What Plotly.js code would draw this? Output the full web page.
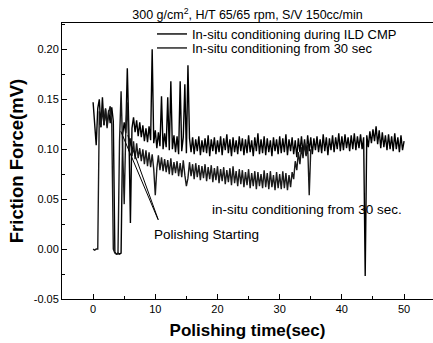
<!DOCTYPE html>
<html>
<head>
<meta charset="utf-8">
<script src="https://cdn.plot.ly/plotly-3.0.1.min.js"></script>
<style>html,body{margin:0;padding:0;background:#fff;}#chart{width:433px;height:343px;}</style>
</head>
<body>
<div id="chart"></div>
<script>
// Sampling: both records start at t = 0 s, one sample every 0.25 s
const sampleStart = 0;
const sampleStep = 0.25;

const seriesNames = ['In-situ conditioning during ILD CMP', 'In-situ conditioning from 30 sec'];

// Friction force (mV), in-situ conditioning during ILD CMP, t = 0 ... 50 s
const frictionDuring = [
  0.147, 0.119, 0.104, 0.141, 0.150, 0.122, 0.152, 0.124,
  0.141, 0.123, 0.139, 0.126, 0.142, 0.128, -0.003, -0.005,
  -0.004, -0.005, -0.004, 0.114, 0.127, 0.116, 0.181, 0.119,
  0.026, 0.121, 0.132, 0.117, 0.129, 0.113, 0.127, 0.112,
  0.124, 0.108, 0.121, 0.107, 0.123, 0.109, 0.200, 0.106,
  0.119, 0.101, 0.117, 0.103, 0.153, 0.100, 0.116, 0.102,
  0.152, 0.099, 0.168, 0.100, 0.114, 0.097, 0.113, 0.095,
  0.168, 0.098, 0.112, 0.165, 0.096, 0.184, 0.111, 0.097,
  0.112, 0.095, 0.110, 0.098, 0.113, 0.094, 0.109, 0.097,
  0.111, 0.096, 0.114, 0.093, 0.110, 0.098, 0.112, 0.095,
  0.109, 0.097, 0.113, 0.094, 0.111, 0.099, 0.115, 0.096,
  0.110, 0.093, 0.112, 0.097, 0.109, 0.095, 0.113, 0.098,
  0.111, 0.094, 0.110, 0.096, 0.114, 0.097, 0.109, 0.093,
  0.112, 0.098, 0.116, 0.095, 0.110, 0.096, 0.113, 0.094,
  0.111, 0.097, 0.109, 0.093, 0.112, 0.098, 0.110, 0.095,
  0.113, 0.096, 0.111, 0.097, 0.115, 0.094, 0.110, 0.098,
  0.112, 0.095, 0.109, 0.092, 0.111, 0.097, 0.113, 0.096,
  0.110, 0.094, 0.114, 0.098, 0.112, 0.095, 0.111, 0.099,
  0.113, 0.097, 0.110, 0.096, 0.115, 0.098, 0.112, 0.094,
  0.111, 0.099, 0.114, 0.097, 0.112, 0.100, 0.116, 0.098,
  0.113, 0.099, 0.115, 0.101, 0.112, 0.098, 0.114, 0.100,
  0.116, 0.099, 0.113, 0.101, 0.115, 0.100, 0.112, -0.027,
  0.114, 0.102, 0.118, 0.106, 0.120, 0.108, 0.123, 0.105,
  0.119, 0.101, 0.117, 0.102, 0.114, 0.099, 0.115, 0.100,
  0.113, 0.098, 0.116, 0.100, 0.112, 0.097, 0.114, 0.099,
  0.108
];

// Friction force (mV), in-situ conditioning from 30 sec, t = 0 ... 35 s
const frictionFrom30 = [
  0.000, -0.001, 0.000, 0.000, 0.138, 0.122, 0.141, 0.124,
  0.140, 0.121, 0.137, 0.143, 0.125, 0.000, -0.004, -0.005,
  -0.005, 0.108, 0.158, 0.104, 0.045, 0.116, 0.147, 0.098,
  0.111, 0.093, 0.108, 0.090, 0.106, 0.091, 0.101, 0.088,
  0.100, 0.085, 0.099, 0.083, 0.097, 0.082, 0.095, 0.080,
  0.054, 0.081, 0.094, 0.079, 0.092, 0.078, 0.090, 0.077,
  0.089, 0.075, 0.091, 0.074, 0.087, 0.076, 0.088, 0.073,
  0.086, 0.072, 0.089, 0.074, 0.063, 0.071, 0.087, 0.073,
  0.085, 0.070, 0.086, 0.072, 0.084, 0.069, 0.083, 0.071,
  0.085, 0.068, 0.082, 0.070, 0.084, 0.067, 0.081, 0.069,
  0.083, 0.066, 0.080, 0.068, 0.082, 0.065, 0.079, 0.067,
  0.081, 0.064, 0.083, 0.066, 0.078, 0.063, 0.080, 0.065,
  0.079, 0.062, 0.077, 0.064, 0.080, 0.061, 0.076, 0.063,
  0.078, 0.060, 0.077, 0.063, 0.075, 0.061, 0.079, 0.062,
  0.076, 0.060, 0.078, 0.062, 0.074, 0.059, 0.077, 0.061,
  0.075, 0.060, 0.078, 0.061, 0.076, 0.059, 0.074, 0.062,
  0.077, 0.070, 0.088, 0.079, 0.097, 0.085, 0.102, 0.091,
  0.106, 0.093, 0.104, 0.054, 0.100
];

const xTickVals = [0, 10, 20, 30, 40, 50];
const yTickVals = [-0.05, 0.00, 0.05, 0.10, 0.15, 0.20];
const yTickText = ['-0.05', '0.00', '0.05', '0.10', '0.15', '0.20'];

const FONT = 'Liberation Sans, Arial, Helvetica, sans-serif';

const traces = [
  {
    type: 'scatter', mode: 'lines', name: seriesNames[0], legend: 'legend',
    x0: sampleStart, dx: sampleStep, y: frictionDuring,
    line: {color: '#000000', width: 1.4}
  },
  {
    type: 'scatter', mode: 'lines', name: seriesNames[1], legend: 'legend2',
    x0: sampleStart, dx: sampleStep, y: frictionFrom30,
    line: {color: '#1a1a1a', width: 1.4}
  }
];

const legendCommon = {
  x: 0.2426, xanchor: 'left', yanchor: 'top',
  bgcolor: 'rgba(0,0,0,0)', borderwidth: 0,
  font: {family: FONT, size: 13, color: '#000'},
  itemwidth: 30
};

const layout = {
  width: 433, height: 343,
  margin: {l: 62, r: 0, t: 23, b: 44, pad: 0},
  paper_bgcolor: '#ffffff', plot_bgcolor: '#ffffff',
  font: {family: FONT, color: '#000'},
  showlegend: true,
  title: {
    text: '300 g/cm<sup>2</sup>, H/T 65/65 rpm, S/V 150cc/min',
    font: {family: FONT, size: 12.5, color: '#000'},
    x: 0.5, xref: 'paper', xanchor: 'center',
    y: 1 - 15 / 343, yref: 'container', yanchor: 'middle'
  },
  legend: Object.assign({}, legendCommon, {y: 1.0145}),
  legend2: Object.assign({}, legendCommon, {y: 1.0145 - 14 / 276}),
  xaxis: {
    range: [-5, 54.65], showgrid: false, zeroline: false,
    showline: true, linecolor: '#000', linewidth: 1, mirror: true,
    ticks: 'inside', ticklen: 5, tickwidth: 1, tickcolor: '#000',
    tickmode: 'array', tickvals: xTickVals,
    tickfont: {family: FONT, size: 11, color: '#000'},
    minor: {dtick: 5, tick0: 0, ticks: 'inside', ticklen: 3, tickcolor: '#000', showgrid: false},
    title: {text: 'Polishing time(sec)', font: {family: FONT, size: 17, color: '#000', weight: 'bold'}, standoff: 9},
    automargin: false
  },
  yaxis: {
    range: [-0.05, 0.2264], showgrid: false, zeroline: false,
    showline: true, linecolor: '#000', linewidth: 1, mirror: true,
    ticks: 'inside', ticklen: 5, tickwidth: 1, tickcolor: '#000',
    tickmode: 'array', tickvals: yTickVals, ticktext: yTickText,
    tickfont: {family: FONT, size: 11, color: '#000'},
    minor: {dtick: 0.025, tick0: 0, ticks: 'inside', ticklen: 3, tickcolor: '#000', showgrid: false},
    title: {text: 'Friction Force(mV)', font: {family: FONT, size: 18.5, color: '#000', weight: 'bold'}, standoff: 5},
    automargin: false
  },
  annotations: [
    {
      x: 34.4, y: 0.0395, xref: 'x', yref: 'y', showarrow: false,
      text: 'in-situ conditioning from 30 sec.',
      font: {family: FONT, size: 13.5, color: '#000'}
    },
    {
      x: 18.3, y: 0.0146, xref: 'x', yref: 'y', showarrow: false,
      text: 'Polishing Starting',
      font: {family: FONT, size: 13.5, color: '#000'}
    },
    {
      x: 4.45, y: 0.118, xref: 'x', yref: 'y', text: '',
      showarrow: true, arrowhead: 0, arrowwidth: 1, arrowcolor: '#000',
      ax: 38, ay: 90, standoff: 0, startstandoff: 0
    },
    {
      x: 5.58, y: 0.114, xref: 'x', yref: 'y', text: '',
      showarrow: true, arrowhead: 0, arrowwidth: 1, arrowcolor: '#000',
      ax: 31, ay: 86, standoff: 0, startstandoff: 0
    }
  ]
};

Plotly.newPlot('chart', traces, layout, {staticPlot: true, displayModeBar: false});
</script>
</body>
</html>
